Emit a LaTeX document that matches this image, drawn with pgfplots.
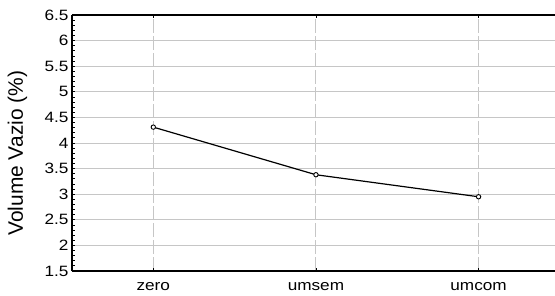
\documentclass[border=0pt]{standalone}
\usepackage{fontspec}
\setmainfont{Liberation Sans}
\newfontfamily\tickfont[FakeStretch=1.15]{Liberation Sans}
\usepackage{pgfplots}
\pgfplotsset{compat=1.18}
\begin{document}
\begin{tikzpicture}
\begin{axis}[
  at={(0,0)}, anchor=south west,
  scale only axis, width=483bp, height=256bp,
  xmin=-0.5, xmax=2.47, ymin=1.5, ymax=6.5,
  axis x line=box, axis y line=left,
  axis line style={-, line width=1.9bp},
  xtick={0,1,2}, xticklabels={zero,umsem,umcom},
  ytick={1.5,2,...,6.5},
  yticklabels={1.5,2,2.5,3,3.5,4,4.5,5,5.5,6,6.5},
  minor y tick num=4,
  tick align=inside,
  major tick length=3bp, minor tick length=3bp,
  tick style={black, line width=0.8bp},
  ymajorgrids, xmajorgrids,
  y grid style={gray!45, line width=0.9bp},
  x grid style={gray!45, line width=1bp, dash pattern=on 14bp off 3bp},
  /pgf/number format/assume math mode=true,
  ticklabel style={font=\tickfont\fontsize{15}{17}\selectfont},
  yticklabel style={xshift=0bp},
  xticklabel style={yshift=-8bp},
  ylabel={Volume Vazio (\%)},
  ylabel style={font=\fontsize{21}{24}\selectfont, at={(axis description cs:-0.113,0.46)}, anchor=center},
]
\addplot[black, line width=1.2bp, mark=*, mark size=2.2bp, mark options={fill=white, line width=0.9bp}]
  coordinates {(0,4.31) (1,3.38) (2,2.95)};
\end{axis}
\pgfresetboundingbox
\useasboundingbox (-72bp,-25bp) rectangle (483bp,271bp);
\end{tikzpicture}
\end{document}
